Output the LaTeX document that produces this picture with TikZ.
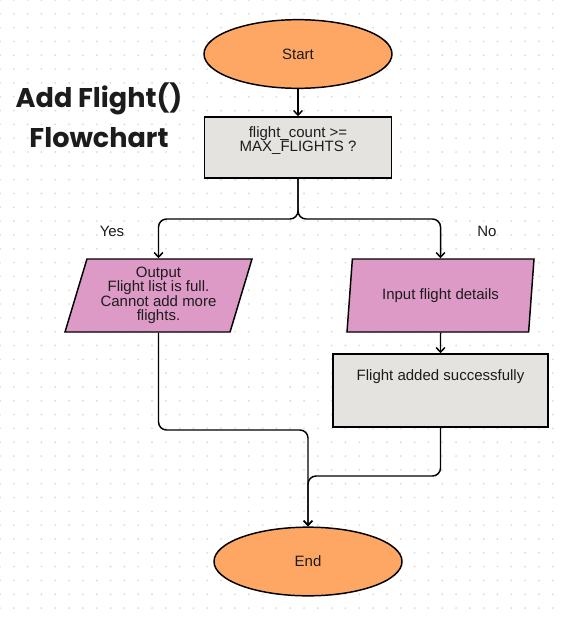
\documentclass[tikz,border=0pt]{standalone}
\usepackage{fontspec}
\setmainfont{Liberation Sans}
\newfontfamily\titlefont{Poppins}
\usetikzlibrary{shapes.geometric,arrows.meta,calc}
\definecolor{startorange}{HTML}{FEA764}
\definecolor{iopink}{HTML}{DE9AC6}
\definecolor{procgray}{HTML}{E5E3E0}
\definecolor{dotgray}{HTML}{DDDDDD}
\definecolor{inkdark}{HTML}{1C1C1C}
\begin{document}
\begin{tikzpicture}[x=0.75pt,y=-0.75pt,
  every node/.style={font=\fontsize{11.25}{10.9}\selectfont, text=inkdark},
  term/.style={ellipse, draw=black, line width=1.1pt, fill=startorange, minimum width=141pt, minimum height=51.5pt, inner sep=0pt},
  procbox/.style={rectangle, draw=black, line width=1.1pt, fill=procgray, inner sep=0pt},
  iobox/.style={trapezium, trapezium left angle=69, trapezium right angle=111, trapezium stretches body=true, draw=black, line width=1.1pt, fill=iopink, minimum width=140.25pt, minimum height=54.75pt, inner sep=0pt, align=center},
  conn/.style={draw=black, line width=1.1pt, -{Straight Barb[length=3.5pt,width=6.5pt]}},
  lbl/.style={align=center, inner sep=0pt}]
\fill[white] (0,0) rectangle (561,617);
\useasboundingbox (0,0) rectangle (561,617);
\foreach \i in {0,...,40} {\foreach \j in {0,...,44} {\fill[dotgray] (\i*13.82,\j*13.82) circle[radius=0.8pt];}}

\node[font=\titlefont\fontsize{20.3}{30}\bfseries\selectfont, align=center] (title) at (99,115) {Add Flight()\\Flowchart};

\node[term] (start) at (298,54) {Start};
\node[procbox, minimum width=140.25pt, minimum height=45.75pt] (dec) at (298,147.5) {};
\node[lbl] (decT) at (298,140.5) {flight\_count >=\\MAX\_FLIGHTS ?};
\node[iobox] (outL) at (158.5,295.5) {Output\\Flight list is full.\\Cannot add more\\flights.};
\node[iobox] (inR) at (440.5,295.5) {Input flight details};
\node[procbox, minimum width=161.25pt, minimum height=54.75pt] (added) at (440.5,390.5) {};
\node[lbl] (addedT) at (440.5,377) {Flight added successfully};
\node[term] (endT) at (308,561.5) {End};
\node[lbl] (yes) at (112,231) {Yes};
\node[lbl] (no) at (487,231) {No};

\coordinate (fork) at (298,219);
\coordinate (mergeL) at (308,430);
\coordinate (mergeR) at (308,476);

\draw[conn] (start.south) -- (dec.north);
\draw[conn, rounded corners=6pt] (dec.south) -- (fork) -| (outL.north);
\draw[conn, rounded corners=6pt] (dec.south) -- (fork) -| (inR.north);
\draw[conn] (inR.south) -- (added.north);
\draw[conn, rounded corners=6pt] (outL.south) |- (mergeL) -- (endT.north);
\draw[conn, rounded corners=6pt] (added.south) |- (mergeR) -- (endT.north);
\end{tikzpicture}
\end{document}
